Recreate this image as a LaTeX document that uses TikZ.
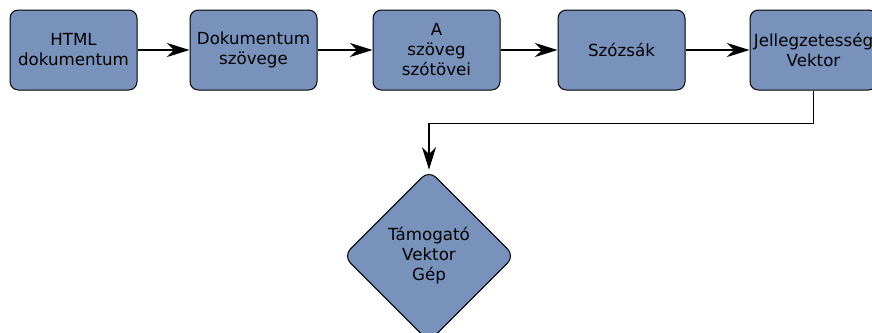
\documentclass[tikz,border=0pt]{standalone}
\usepackage{fontspec}
\setmainfont{DejaVu Sans}
\usetikzlibrary{shapes.geometric,arrows.meta,positioning}
\definecolor{dobozkek}{RGB}{120,146,188}
\begin{document}
\begin{tikzpicture}[x=0.6pt,y=-0.6pt,
      doboz/.style={rectangle, rounded corners=5pt, draw=black, line width=0.6pt, fill=dobozkek, minimum width=76.2pt, minimum height=48pt, inner sep=0pt, align=center, font=\fontsize{10}{12}\selectfont},
      dont/.style={diamond, rounded corners=6pt, draw=black, line width=0.6pt, fill=dobozkek, minimum width=103pt, minimum height=103pt, inner sep=0pt, align=center, font=\fontsize{10}{12}\selectfont},
      pfeil/.style={-{Stealth[length=13.5pt,width=8.4pt,inset=4.2pt]}, line width=0.7pt}]

\useasboundingbox (0,0) rectangle (872,332);

\node[doboz] (n1) at (73.5,50) {HTML\\dokumentum};
\node[doboz] (n2) at (253.5,50) {Dokumentum\\szövege};
\node[doboz] (n3) at (436.5,50) {A\\szöveg\\szótövei};
\node[doboz] (n4) at (621.5,50) {Szózsák};
\node[doboz] (n5) at (813.5,50) {Jellegzetesség\\Vektor};
\node[dont] (n6) at (429,256) {Támogató\\Vektor\\Gép};
\draw[pfeil] (n1) -- (n2);
\draw[pfeil] (n2) -- (n3);
\draw[pfeil] (n3) -- (n4);
\draw[pfeil] (n4) -- (n5);
\draw[pfeil] (n5.south) -- ++(0,33) -| (n6.north);

\end{tikzpicture}
\end{document}
